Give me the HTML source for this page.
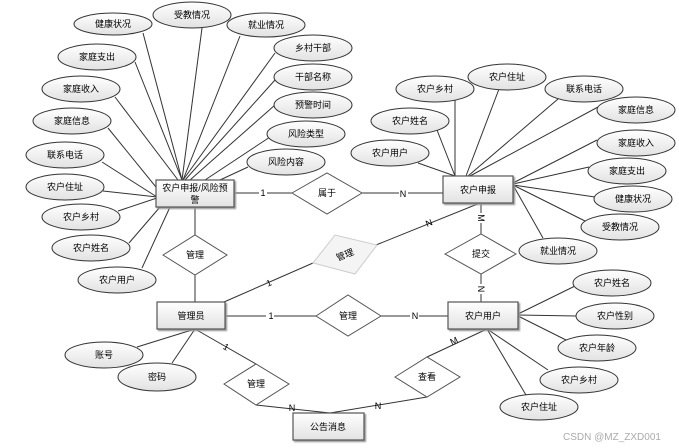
<!DOCTYPE html>
<html><head><meta charset="utf-8"><style>
html,body{margin:0;padding:0;background:#fff;width:679px;height:448px;overflow:hidden}
text{font-family:"Liberation Sans","Noto Sans CJK SC",sans-serif;font-size:9px;fill:#000}
</style></head><body>
<svg width="679" height="448" xmlns="http://www.w3.org/2000/svg">
<defs>
<linearGradient id="g" x1="0" y1="0" x2="0" y2="1"><stop offset="0" stop-color="#ffffff"/><stop offset="1" stop-color="#e2e2e2"/></linearGradient>
<filter id="s" x="-20%" y="-20%" width="150%" height="150%"><feDropShadow dx="1.5" dy="1.5" stdDeviation="0.8" flood-color="#999"/></filter>
</defs>
<g stroke="#333" stroke-width="1" fill="none">
<!-- E1 attribute lines -->
<line x1="143" y1="33" x2="182" y2="180"/>
<line x1="202" y1="28" x2="182" y2="180"/>
<line x1="240" y1="36" x2="183" y2="180"/>
<line x1="275" y1="53" x2="183" y2="180"/>
<line x1="275" y1="80" x2="185" y2="180"/>
<line x1="275" y1="105" x2="190" y2="180"/>
<line x1="270" y1="137" x2="205" y2="180"/>
<line x1="248" y1="167" x2="220" y2="180"/>
<line x1="135" y1="62" x2="182" y2="180"/>
<line x1="115" y1="97" x2="178" y2="180"/>
<line x1="108" y1="128" x2="160" y2="192"/>
<line x1="102" y1="162" x2="157" y2="197"/>
<line x1="103" y1="191" x2="157" y2="197"/>
<line x1="118" y1="211" x2="157" y2="198"/>
<line x1="129" y1="243" x2="160" y2="207"/>
<line x1="142" y1="268" x2="170" y2="207"/>
<!-- E2 lines -->
<line x1="418" y1="163" x2="455" y2="176"/>
<line x1="437" y1="130" x2="455" y2="176"/>
<line x1="455" y1="100" x2="455" y2="176"/>
<line x1="499" y1="89" x2="466" y2="176"/>
<line x1="558" y1="99" x2="468" y2="176"/>
<line x1="598" y1="107" x2="470" y2="176"/>
<line x1="597" y1="140" x2="513" y2="183"/>
<line x1="589" y1="167" x2="513" y2="184"/>
<line x1="595" y1="197" x2="513" y2="185"/>
<line x1="585" y1="221" x2="513" y2="185"/>
<line x1="543" y1="238" x2="513" y2="185"/>
<!-- relations -->
<line x1="235" y1="193" x2="292" y2="193"/>
<line x1="362" y1="193" x2="443" y2="193"/>
<line x1="195" y1="207" x2="195" y2="302"/>
<line x1="224" y1="302" x2="313" y2="263"/>
<line x1="376" y1="245" x2="480" y2="203"/>
<line x1="481" y1="203" x2="481" y2="302"/>
<line x1="225" y1="316" x2="316" y2="316"/>
<line x1="381" y1="316" x2="448" y2="316"/>
<line x1="195" y1="329" x2="256" y2="364"/>
<line x1="256" y1="405" x2="330" y2="413"/>
<line x1="427" y1="397" x2="330" y2="413"/>
<line x1="427" y1="357" x2="487" y2="329"/>
<line x1="195" y1="329" x2="137" y2="347"/>
<line x1="195" y1="329" x2="172" y2="363"/>
<line x1="518" y1="314" x2="575" y2="286"/>
<line x1="518" y1="315" x2="576" y2="316"/>
<line x1="518" y1="316" x2="566" y2="340"/>
<line x1="487" y1="329" x2="548" y2="370"/>
<line x1="487" y1="329" x2="526" y2="395"/>
</g>
<!-- ellipses -->
<g fill="url(#g)" stroke="#333" stroke-width="1">
<ellipse cx="113" cy="24" rx="39" ry="11"/>
<ellipse cx="192" cy="15" rx="39" ry="13"/>
<ellipse cx="266" cy="25" rx="39" ry="12"/>
<ellipse cx="313" cy="48" rx="39" ry="13"/>
<ellipse cx="313" cy="77" rx="39" ry="13"/>
<ellipse cx="313" cy="105" rx="39" ry="13"/>
<ellipse cx="306" cy="134" rx="39" ry="13"/>
<ellipse cx="286" cy="162" rx="39" ry="13"/>
<ellipse cx="97" cy="57" rx="39" ry="13"/>
<ellipse cx="81" cy="89" rx="39" ry="13"/>
<ellipse cx="72" cy="121" rx="39" ry="13"/>
<ellipse cx="65" cy="155" rx="39" ry="13"/>
<ellipse cx="65" cy="187" rx="39" ry="13"/>
<ellipse cx="81" cy="217" rx="39" ry="13"/>
<ellipse cx="91" cy="248" rx="39" ry="13"/>
<ellipse cx="117" cy="280" rx="39" ry="13"/>
<ellipse cx="435" cy="89" rx="39" ry="13"/>
<ellipse cx="507" cy="77" rx="39" ry="13"/>
<ellipse cx="584" cy="89" rx="39" ry="13"/>
<ellipse cx="636" cy="110" rx="39" ry="13"/>
<ellipse cx="636" cy="143" rx="39" ry="13"/>
<ellipse cx="627" cy="171" rx="39" ry="13"/>
<ellipse cx="633" cy="199" rx="39" ry="13"/>
<ellipse cx="620" cy="227" rx="39" ry="13"/>
<ellipse cx="558" cy="251" rx="39" ry="13"/>
<ellipse cx="410" cy="121" rx="39" ry="13"/>
<ellipse cx="390" cy="153" rx="39" ry="13"/>
<ellipse cx="612" cy="283" rx="39" ry="13"/>
<ellipse cx="615" cy="316" rx="39" ry="13"/>
<ellipse cx="597" cy="348" rx="39" ry="13"/>
<ellipse cx="579" cy="380" rx="39" ry="13"/>
<ellipse cx="539" cy="407" rx="39" ry="13"/>
<ellipse cx="104" cy="355" rx="39" ry="13"/>
<ellipse cx="157" cy="377" rx="39" ry="14"/>
</g>
<!-- diamonds -->
<g fill="#fff" stroke="#555" stroke-width="1">
<polygon points="292,193 327,173 362,193 327,214"/>
<polygon points="163,255 195,235 227,255 195,275"/>
<polygon points="445,254 481,234 516,254 481,274"/>
<polygon points="316,316 348,295 381,316 348,336"/>
<polygon points="224,384 256,364 289,384 256,405"/>
<polygon points="395,377 427,357 460,377 427,397"/>
</g>
<polygon points="313,263 335,235 377,245 355,274" fill="#f4f4f4" stroke="#ccc"/>
<!-- boxes -->
<g fill="url(#g)" stroke="#555" stroke-width="1.2" filter="url(#s)">
<rect x="156" y="180" width="78" height="27"/>
<rect x="443" y="176" width="70" height="27"/>
<rect x="157" y="302" width="68" height="27"/>
<rect x="448" y="302" width="70" height="27"/>
<rect x="293" y="413" width="71" height="27"/>
</g>
<g text-anchor="middle">
<text x="113" y="27">健康状况</text>
<text x="192" y="18">受教情况</text>
<text x="266" y="28">就业情况</text>
<text x="313" y="51">乡村干部</text>
<text x="313" y="80">干部名称</text>
<text x="313" y="108">预警时间</text>
<text x="306" y="137">风险类型</text>
<text x="286" y="165">风险内容</text>
<text x="97" y="60">家庭支出</text>
<text x="81" y="92">家庭收入</text>
<text x="72" y="124">家庭信息</text>
<text x="65" y="158">联系电话</text>
<text x="65" y="190">农户住址</text>
<text x="81" y="220">农户乡村</text>
<text x="91" y="251">农户姓名</text>
<text x="117" y="283">农户用户</text>
<text x="435" y="92">农户乡村</text>
<text x="507" y="80">农户住址</text>
<text x="584" y="92">联系电话</text>
<text x="636" y="113">家庭信息</text>
<text x="636" y="146">家庭收入</text>
<text x="627" y="174">家庭支出</text>
<text x="633" y="202">健康状况</text>
<text x="620" y="230">受教情况</text>
<text x="558" y="254">就业情况</text>
<text x="410" y="124">农户姓名</text>
<text x="390" y="156">农户用户</text>
<text x="612" y="286">农户姓名</text>
<text x="615" y="319">农户性别</text>
<text x="597" y="351">农户年龄</text>
<text x="579" y="383">农户乡村</text>
<text x="539" y="410">农户住址</text>
<text x="104" y="358">账号</text>
<text x="157" y="380">密码</text>
<text x="195" y="191">农户申报/风险预</text>
<text x="195" y="203">警</text>
<text x="478" y="193">农户申报</text>
<text x="191" y="319">管理员</text>
<text x="483" y="319">农户用户</text>
<text x="328" y="430">公告消息</text>
<text x="327" y="196">属于</text>
<text x="195" y="258">管理</text>
<text x="481" y="257">提交</text>
<text x="348" y="319">管理</text>
<text x="256" y="387">管理</text>
<text x="427" y="380">查看</text>
<text x="345" y="258" fill="#444" transform="rotate(-22 345 255)">管理</text>
</g>
<g font-size="9" text-anchor="middle">
<rect x="259" y="188" width="8" height="10" fill="#fff"/><text x="263" y="196">1</text>
<rect x="399" y="188" width="9" height="10" fill="#fff"/><text x="403" y="197">N</text>
<rect x="266" y="311" width="8" height="10" fill="#fff"/><text x="271" y="319">1</text>
<rect x="410" y="311" width="9" height="10" fill="#fff"/><text x="415" y="319">N</text>
<text x="269" y="286" transform="rotate(-22 269 283)">1</text>
<text x="429" y="226" transform="rotate(-22 429 223)">N</text>
<text x="226" y="350" transform="rotate(30 226 347)">1</text>
<text x="292" y="411">N</text>
<text x="378" y="409">N</text>
<text x="454" y="344" transform="rotate(-25 454 341)">M</text>
<rect x="476" y="213" width="10" height="10" fill="#fff"/><text x="481" y="221" transform="rotate(90 481 218)">M</text>
<rect x="476" y="284" width="10" height="10" fill="#fff"/><text x="481" y="292" transform="rotate(90 481 289)">N</text>
</g>
<text x="612" y="440" text-anchor="middle" style="font-size:10px;fill:#aaa">CSDN @MZ_ZXD001</text>
</svg>
</body></html>
